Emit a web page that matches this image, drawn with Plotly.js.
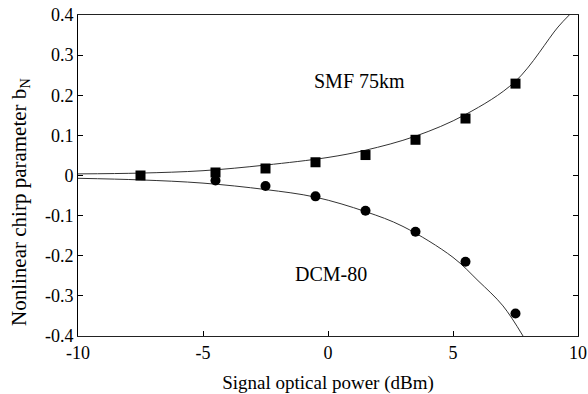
<!DOCTYPE html>
<html>
<head>
<meta charset="utf-8">
<script src="https://cdn.plot.ly/plotly-3.0.1.min.js"></script>
<style>html,body{margin:0;padding:0;background:#fff;}#chart{width:588px;height:394px;}</style>
</head>
<body>
<div id="chart"></div>
<script>
// Measured points
var powerPts = [-7.5, -4.5, -2.5, -0.5, 1.5, 3.5, 5.5, 7.5];
var smfPts = [0.0, 0.0075, 0.0175, 0.033, 0.051, 0.089, 0.142, 0.229];
var dcmPowerPts = [-4.5, -2.5, -0.5, 1.5, 3.5, 5.5, 7.5];
var dcmPts = [-0.0125, -0.026, -0.052, -0.088, -0.14, -0.215, -0.344];

// Fitted curves
var smfCurveX = [-10, -7.5, -5, -2.5, 0, 1.5, 3.5, 5.5, 7.5, 9.2, 9.65];
var smfCurveY = [0.004, 0.006, 0.012, 0.026, 0.045, 0.063, 0.098, 0.152, 0.235, 0.37, 0.4];
var dcmCurveX = [-10, -7.5, -5, -2.5, -0.5, 1.5, 3, 5, 6, 7, 7.8];
var dcmCurveY = [-0.007, -0.011, -0.019, -0.035, -0.054, -0.09, -0.127, -0.204, -0.262, -0.325, -0.4];

var xTicks = [-10, -5, 0, 5, 10];
var xTickText = ['-10', '-5', '0', '5', '10'];
var yTicks = [-0.4, -0.3, -0.2, -0.1, 0, 0.1, 0.2, 0.3, 0.4];
var yTickText = ['-0.4', '-0.3', '-0.2', '-0.1', '0', '0.1', '0.2', '0.3', '0.4'];

var serif = 'Liberation Serif, Times New Roman, serif';

var traces = [
  {x: smfCurveX, y: smfCurveY, mode: 'lines', line: {color: '#333', width: 1, shape: 'spline', smoothing: 1}, hoverinfo: 'skip'},
  {x: dcmCurveX, y: dcmCurveY, mode: 'lines', line: {color: '#333', width: 1, shape: 'spline', smoothing: 1}, hoverinfo: 'skip'},
  {x: powerPts, y: smfPts, mode: 'markers', marker: {symbol: 'square', size: 10, color: '#000'}},
  {x: dcmPowerPts, y: dcmPts, mode: 'markers', marker: {symbol: 'circle', size: 10, color: '#000'}}
];

var layout = {
  width: 588, height: 394,
  margin: {l: 78, r: 10, t: 15, b: 58},
  showlegend: false,
  paper_bgcolor: '#fff', plot_bgcolor: '#fff',
  font: {family: serif, color: '#000'},
  xaxis: {
    range: [-10, 10], tickvals: xTicks, ticktext: xTickText,
    ticks: 'inside', ticklen: 5, tickcolor: '#000',
    showline: true, linecolor: '#222', linewidth: 1, mirror: true,
    showgrid: false, zeroline: false, ticklabeloverflow: 'allow',
    tickfont: {family: serif, size: 18, color: '#000'},
    title: {text: 'Signal optical power (dBm)', font: {family: serif, size: 19, color: '#000'}, standoff: 14}
  },
  yaxis: {
    range: [-0.4, 0.4], tickvals: yTicks, ticktext: yTickText,
    ticks: 'inside', ticklen: 5, tickcolor: '#000',
    showline: true, linecolor: '#000', linewidth: 1, mirror: 'ticks',
    showgrid: false, zeroline: false, ticklabeloverflow: 'allow',
    tickfont: {family: serif, size: 18, color: '#000'}
  },
  annotations: [
    {xref: 'paper', yref: 'paper', x: -0.115, y: 0.416, xanchor: 'center', yanchor: 'middle', textangle: -90,
     text: 'Nonlinear chirp parameter b<sub>N</sub>', showarrow: false, font: {family: serif, size: 21, color: '#000'}},
    {x: 1.27, y: 0.235, xref: 'x', yref: 'y', text: 'SMF 75km', showarrow: false, font: {family: serif, size: 20, color: '#000'}},
    {x: 0.13, y: -0.245, xref: 'x', yref: 'y', text: 'DCM-80', showarrow: false, font: {family: serif, size: 20, color: '#000'}}
  ]
};

Plotly.newPlot('chart', traces, layout, {displayModeBar: false, staticPlot: true});
</script>
</body>
</html>
